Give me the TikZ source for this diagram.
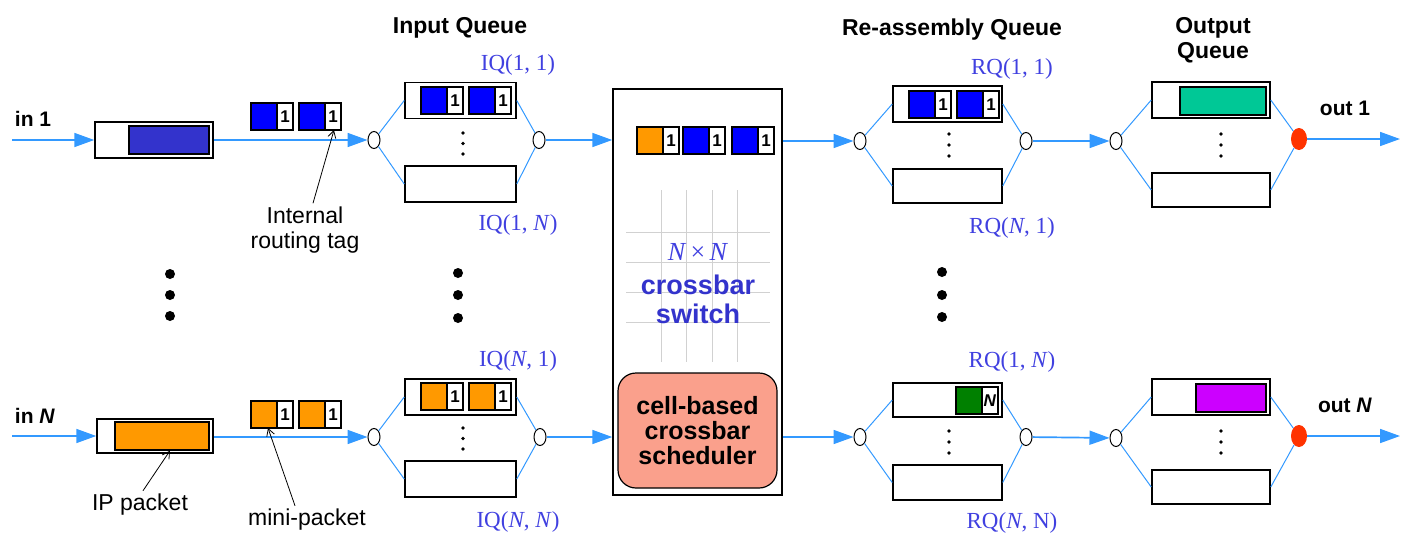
\documentclass[tikz,border=0pt]{standalone}
\usepackage{fontspec}
\setmainfont{Liberation Serif}
\setsansfont{Liberation Sans}
\usetikzlibrary{arrows.meta,shapes.geometric}
\definecolor{lineblue}{RGB}{51,153,255}
\definecolor{ipblue}{RGB}{51,51,204}
\definecolor{pktblue}{RGB}{0,0,255}
\definecolor{pktorange}{RGB}{255,153,0}
\definecolor{teal}{RGB}{0,200,150}
\definecolor{violet}{RGB}{204,0,255}
\definecolor{dgreen}{RGB}{0,128,0}
\definecolor{reddot}{RGB}{255,51,0}
\definecolor{salmon}{RGB}{250,160,140}
\definecolor{labelblue}{RGB}{64,64,224}
\definecolor{xblue}{RGB}{51,51,204}
\tikzset{
  flow/.style={draw=lineblue, line width=1.7pt, -{Triangle[length=20pt,width=14pt]}},
  fan/.style={draw=lineblue, line width=1pt},
  qbox/.style={draw=black, line width=1.5pt, fill=white, inner sep=0pt, minimum width=111pt, minimum height=36pt},
  obox/.style={qbox, minimum width=118pt},
  inpkt/.style={draw=black, line width=1.3pt, inner sep=0pt, minimum height=28pt},
  pktc/.style={draw=black, line width=1.2pt, inner sep=0pt, outer sep=0pt, minimum width=26pt, minimum height=27pt},
  pktw/.style={draw=black, line width=1.2pt, fill=white, inner sep=0pt, outer sep=0pt, minimum width=16pt, minimum height=27pt, font=\sffamily\bfseries\fontsize{17}{17}\selectfont},
  sw/.style={shape=ellipse, draw=black, line width=1pt, fill=white, minimum width=12pt, minimum height=17pt, inner sep=0pt},
  rdot/.style={shape=ellipse, fill=reddot, minimum width=16pt, minimum height=22pt, inner sep=0pt},
  bigdot/.style={circle, fill=black, minimum size=10pt, inner sep=0pt},
  smdot/.style={circle, fill=black, minimum size=3.6pt, inner sep=0pt},
  lbl/.style={font=\sffamily\bfseries\fontsize{21}{25}\selectfont},
  head/.style={font=\sffamily\bfseries\fontsize{23}{25}\selectfont, align=center},
  qlbl/.style={text=labelblue, font=\fontsize{23}{24}\selectfont},
  anntext/.style={font=\sffamily\fontsize{23}{25}\selectfont, align=center},
  ann/.style={draw=black, line width=0.8pt, -{Straight Barb[length=7pt,width=8pt]}},
  grid/.style={draw=black!18, line width=1pt},
}
\newcommand{\mpkt}[5]{%
  \node[pktc, fill=#4, anchor=north west] (#1c) at (#2,#3) {};
  \node[pktw, anchor=west] (#1w) at (#1c.east) {#5};
}
\begin{document}
\begin{tikzpicture}[x=1pt,y=-1pt]
\useasboundingbox (0,0) rectangle (1406,536);

% ---------- headings ----------
\node[head] (hIQ) at (460,28) {Input Queue};
\node[head] (hRQ) at (952,30) {Re-assembly Queue};
\node[head] (hOQ) at (1213,40) {Output\\Queue};

% ---------- inputs ----------
\node[lbl] (in1) at (33,119) {in 1};
\node[lbl] (inN) at (35,416) {in \textit{N}};
\coordinate (in1s) at (12,140);
\coordinate (inNs) at (12,436);

\node[qbox, minimum width=118pt, minimum height=36pt] (ip1) at (154,140) {};
\node[inpkt, fill=ipblue, minimum width=80pt] (ip1in) at (169,140) {};
\node[qbox, minimum width=116pt, minimum height=34pt] (ipN) at (155,436) {};
\node[inpkt, fill=pktorange, minimum width=94pt] (ipNin) at (162,436) {};

\mpkt{m11}{251}{103}{pktblue}{1}
\mpkt{m12}{299}{103}{pktblue}{1}
\mpkt{mN1}{251}{401}{pktorange}{1}
\mpkt{mN2}{299}{401}{pktorange}{1}

% ---------- input queues ----------
\node[sw] (iq1l) at (374,140) {};
\node[sw] (iq1r) at (539,140) {};
\node[qbox] (iq1a) at (460.5,100.5) {};
\node[qbox] (iq1b) at (460.5,184) {};
\mpkt{q11}{421}{87}{pktblue}{1}
\mpkt{q12}{469}{87}{pktblue}{1}
\node[smdot] (iq1d1) at (463,133) {};
\node[smdot] (iq1d2) at (463,143.5) {};
\node[smdot] (iq1d3) at (463,154) {};

\node[sw] (iqNl) at (374,437) {};
\node[sw] (iqNr) at (540,437) {};
\node[qbox] (iqNa) at (460.5,397) {};
\node[qbox] (iqNb) at (460.5,479) {};
\mpkt{qN1}{421}{383}{pktorange}{1}
\mpkt{qN2}{469}{383}{pktorange}{1}
\node[smdot] (iqNd1) at (463,428) {};
\node[smdot] (iqNd2) at (463,438.5) {};
\node[smdot] (iqNd3) at (463,449) {};

\node[qlbl] (lIQ11) at (518,65) {IQ(1, 1)};
\node[qlbl] (lIQ1N) at (518,225) {IQ(1, \textit{N})};
\node[qlbl] (lIQN1) at (518,361) {IQ(\textit{N}, 1)};
\node[qlbl] (lIQNN) at (518,522) {IQ(\textit{N}, \textit{N})};

% ---------- crossbar ----------
\node[draw=black, line width=1.5pt, fill=white, minimum width=169pt, minimum height=406pt, inner sep=0pt] (xbar) at (697.5,292) {};
\foreach \gx in {661,686,712,737} \draw[grid] (\gx,190) -- (\gx,362);
\foreach \gy in {232,262,292,322} \draw[grid] (626,\gy) -- (770,\gy);
\mpkt{x1}{637}{127}{pktorange}{1}
\mpkt{x2}{683}{127}{pktblue}{1}
\mpkt{x3}{732}{127}{pktblue}{1}
\node[text=labelblue, font=\fontsize{26}{26}\selectfont] (nxn) at (698,252) {\textit{N}\,×\,\textit{N}};
\node[text=xblue, align=center, font=\sffamily\bfseries\fontsize{27}{29}\selectfont] (xtxt) at (698,299) {crossbar\\switch};
\node[draw=black, line width=1.2pt, fill=salmon, rounded corners=18pt, minimum width=159pt, minimum height=115pt, align=center, font=\sffamily\bfseries\fontsize{25}{25}\selectfont] (sched) at (697.5,430.5) {cell-based\\crossbar\\scheduler};

% ---------- re-assembly queues ----------
\node[sw] (rq1l) at (860,141) {};
\node[sw] (rq1r) at (1026,141) {};
\node[qbox, minimum width=109pt] (rq1a) at (947.5,104) {};
\node[qbox, minimum width=109pt, minimum height=34pt] (rq1b) at (947.5,186) {};
\mpkt{r11}{909}{91}{pktblue}{1}
\mpkt{r12}{957}{91}{pktblue}{1}
\node[smdot] (rq1d1) at (949,134) {};
\node[smdot] (rq1d2) at (949,145) {};
\node[smdot] (rq1d3) at (949,156) {};

\node[sw] (rqNl) at (860,437) {};
\node[sw] (rqNr) at (1026,437) {};
\node[qbox, minimum width=109pt, minimum height=34pt] (rqNa) at (947.5,400) {};
\node[qbox, minimum width=109pt, minimum height=35pt] (rqNb) at (947.5,482.5) {};
\mpkt{rN1}{956}{387}{dgreen}{\textit{N}}
\node[smdot] (rqNd1) at (949,431) {};
\node[smdot] (rqNd2) at (949,442) {};
\node[smdot] (rqNd3) at (949,453) {};

\node[qlbl] (lRQ11) at (1012,69) {RQ(1, 1)};
\node[qlbl] (lRQN1) at (1012,228) {RQ(\textit{N}, 1)};
\node[qlbl] (lRQ1N) at (1012,362) {RQ(1, \textit{N})};
\node[qlbl] (lRQNN) at (1012,523) {RQ(\textit{N}, N)};

% ---------- output queues ----------
\node[sw] (oq1l) at (1116,141) {};
\node[rdot] (oq1r) at (1299,139) {};
\node[obox] (oq1a) at (1211,100) {};
\node[obox, minimum height=34pt] (oq1b) at (1211,190) {};
\node[inpkt, fill=teal, minimum width=86pt] (oq1p) at (1223,101) {};
\node[smdot] (oq1d1) at (1221,134) {};
\node[smdot] (oq1d2) at (1221,145) {};
\node[smdot] (oq1d3) at (1221,156) {};

\node[sw] (oqNl) at (1116,438) {};
\node[rdot] (oqNr) at (1299,436) {};
\node[obox] (oqNa) at (1211,397) {};
\node[obox, minimum height=34pt] (oqNb) at (1211,487) {};
\node[inpkt, fill=violet, minimum width=70pt] (oqNp) at (1231,398) {};
\node[smdot] (oqNd1) at (1221,431) {};
\node[smdot] (oqNd2) at (1221,442) {};
\node[smdot] (oqNd3) at (1221,453) {};

\node[lbl] (out1) at (1345,108) {out 1};
\node[lbl] (outN) at (1345,405) {out \textit{N}};
\coordinate (out1e) at (1400,139);
\coordinate (outNe) at (1400,436);

% ---------- big dots ----------
\node[bigdot] (da1) at (170,274) {};
\node[bigdot] (da2) at (170,295) {};
\node[bigdot] (da3) at (170,316) {};
\node[bigdot] (db1) at (458,273) {};
\node[bigdot] (db2) at (458,295) {};
\node[bigdot] (db3) at (458,318) {};
\node[bigdot] (dc1) at (942,272) {};
\node[bigdot] (dc2) at (942,295) {};
\node[bigdot] (dc3) at (942,317) {};

% ---------- connectors ----------
\draw[flow] (in1s) -- (ip1);
\draw[flow] (ip1) -- (iq1l);
\draw[flow] (inNs) -- (ipN);
\draw[flow] (ipN.east |- iqNl) -- (iqNl);
\foreach \r in {iq1,iqN,rq1,rqN,oq1,oqN} {
  \draw[fan] (\r l) -- (\r a.west);
  \draw[fan] (\r l) -- (\r b.west);
  \draw[fan] (\r a.east) -- (\r r);
  \draw[fan] (\r b.east) -- (\r r);
}
\draw[flow] (iq1r) -- (iq1r -| xbar.west);
\draw[flow] (iqNr) -- (iqNr -| xbar.west);
\draw[flow] (xbar.east |- rq1l) -- (rq1l);
\draw[flow] (xbar.east |- rqNl) -- (rqNl);
\draw[flow] (rq1r) -- (oq1l);
\draw[flow] (rqNr) -- (oqNl);
\draw[flow] (oq1r) -- (out1e);
\draw[flow] (oqNr) -- (outNe);

% ---------- annotations ----------
\node[anntext] (tag) at (305,230) {Internal\\routing tag};
\node[anntext] (ipl) at (140,505) {IP packet};
\node[anntext] (mpl) at (307,520) {mini-packet};
\draw[ann] ([xshift=8pt]tag.north) -- ([xshift=1pt]m12w.south);
\draw[ann] ([xshift=3pt]ipl.north) -- ([xshift=8pt]ipNin.south);
\draw[ann] ([xshift=-12pt]mpl.north) -- ([xshift=4pt]mN1c.south);
\end{tikzpicture}
\end{document}
